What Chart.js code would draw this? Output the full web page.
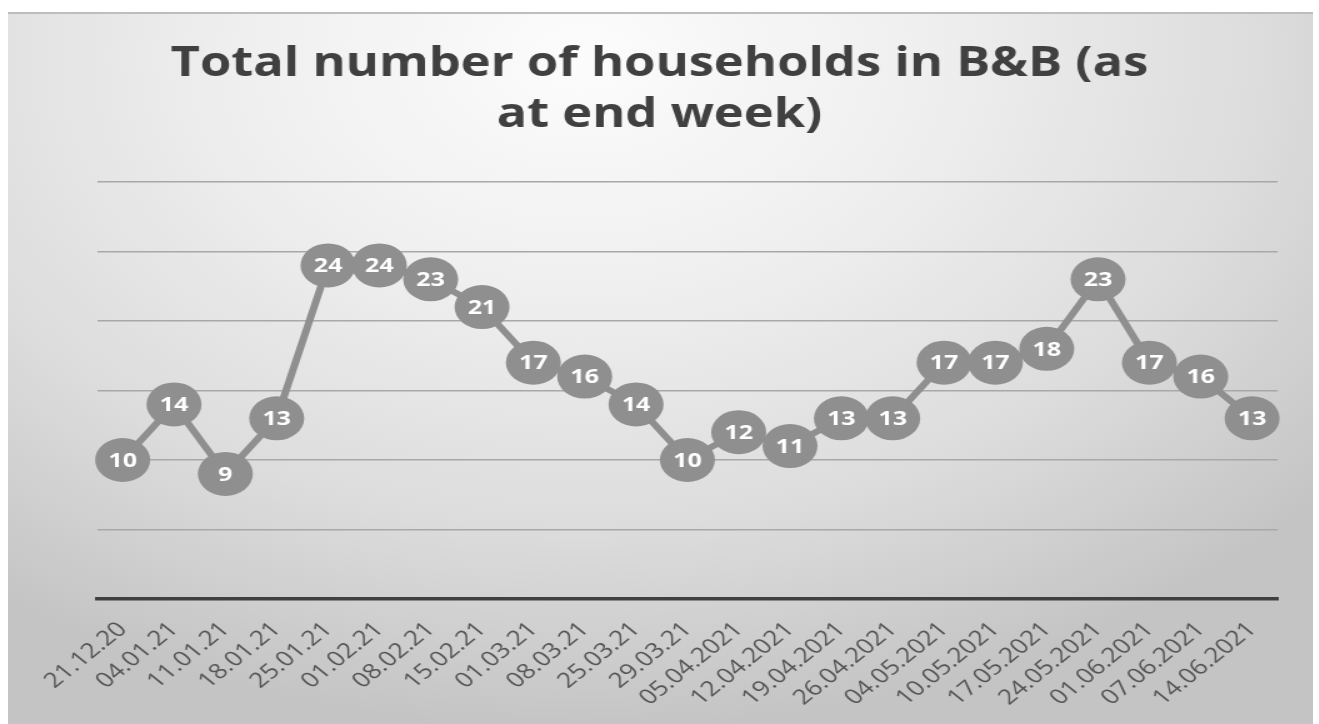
<!DOCTYPE html>
<html>
<head>
<meta charset="utf-8">
<script src="https://cdn.jsdelivr.net/npm/chart.js@4.4.1/dist/chart.umd.min.js"></script>
<style>
  html, body { margin: 0; padding: 0; background: #ffffff; width: 1319px; height: 724px; overflow: hidden; }
  #bg {
    position: absolute; left: 8px; top: 12px; width: 1305px; height: 712px;
    border-top: 2px solid #bdbdbd; box-sizing: border-box;
    background: radial-gradient(ellipse 75% 95% at 44% 6%, #fcfcfc 0%, #efefef 35%, #dcdcdc 70%, #c4c4c4 100%);
  }
  #wrap { position: absolute; left: 0; top: 0; width: 1055px; height: 724px; transform: scaleX(1.25); transform-origin: 0 0; }
  canvas { display: block; }
</style>
</head>
<body>
<div id="bg"></div>
<div id="wrap"><canvas id="c" width="1055" height="724"></canvas></div>
<script>
const categories = ["21.12.20","04.01.21","11.01.21","18.01.21","25.01.21","01.02.21","08.02.21","15.02.21","01.03.21","08.03.21","25.03.21","29.03.21","05.04.2021","12.04.2021","19.04.2021","26.04.2021","04.05.2021","10.05.2021","17.05.2021","24.05.2021","01.06.2021","07.06.2021","14.06.2021"];
const households = [10,14,9,13,24,24,23,21,17,16,14,10,12,11,13,13,17,17,18,23,17,16,13];
const titleLines = ["Total number of households in B&B (as", "at end week)"];
const yMin = 0, yMax = 30, yStep = 5;

const valueLabels = {
  id: 'valueLabels',
  afterDatasetsDraw(chart) {
    const ctx = chart.ctx;
    const meta = chart.getDatasetMeta(0);
    const ds = chart.data.datasets[0];
    ctx.save();
    ctx.fillStyle = '#ffffff';
    ctx.font = 'bold 20px "Open Sans", sans-serif';
    ctx.textAlign = 'center';
    ctx.textBaseline = 'middle';
    meta.data.forEach((pt, i) => {
      ctx.fillText(String(ds.data[i]), pt.x, pt.y + 1);
    });
    ctx.restore();
  }
};

new Chart(document.getElementById('c'), {
  type: 'line',
  data: {
    labels: categories,
    datasets: [{
      data: households,
      borderColor: '#8f8f8f',
      borderWidth: 6,
      backgroundColor: '#8f8f8f',
      pointBackgroundColor: '#8f8f8f',
      pointBorderColor: '#8f8f8f',
      pointBorderWidth: 0,
      pointRadius: 22,
      pointHoverRadius: 22,
      tension: 0,
      yAxisID: 'y'
    }]
  },
  options: {
    responsive: false,
    devicePixelRatio: 1,
    animation: false,
    events: [],
    layout: { padding: { left: 0, right: 0, top: 0, bottom: 0 } },
    plugins: {
      legend: { display: false },
      tooltip: { enabled: false },
      title: {
        display: true,
        text: titleLines,
        color: '#404040',
        font: { family: '"Open Sans", sans-serif', size: 40.5, weight: 'bold', lineHeight: 51/40.5 },
        padding: { top: 39, bottom: 41 }
      }
    },
    scales: {
      x: {
        offset: true,
        grid: { display: false, drawTicks: false },
        border: { display: true, color: '#404040', width: 3.5 },
        ticks: {
          autoSkip: false,
          minRotation: 45,
          maxRotation: 45,
          padding: 18,
          color: '#555555',
          font: { family: '"Open Sans", sans-serif', size: 21 }
        },
        afterFit(scale) { scale.height = 125; }
      },
      y: {
        position: 'left',
        min: yMin, max: yMax,
        ticks: { display: false, stepSize: yStep },
        border: { display: false },
        grid: {
          drawTicks: false,
          lineWidth: 1.6,
          color: (c) => (c.tick && c.tick.value === 0) ? 'rgba(0,0,0,0)' : '#a8a8a8'
        },
        afterFit(scale) { scale.width = 97 / 1.25; }
      },
      yRight: {
        position: 'right',
        display: true,
        min: yMin, max: yMax,
        ticks: { display: false },
        border: { display: false },
        grid: { display: false, drawTicks: false },
        afterFit(scale) { scale.width = (1319 - 1278) / 1.25; }
      }
    }
  },
  plugins: [valueLabels]
});
</script>
</body>
</html>
